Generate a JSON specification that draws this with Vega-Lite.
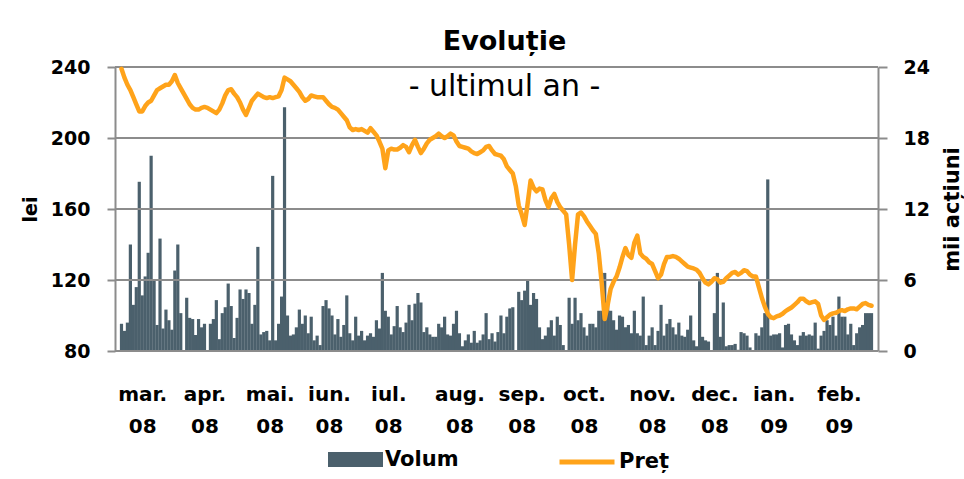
{
  "$schema": "https://vega.github.io/schema/vega-lite/v6.json",
  "width": 763,
  "height": 284,
  "autosize": {"type": "none"},
  "padding": {"left": 115, "top": 67, "right": 86, "bottom": 128},
  "background": "white",
  "config": {
    "font": "DejaVu Sans",
    "view": {"stroke": null},
    "axis": {
      "labelFont": "DejaVu Sans",
      "titleFont": "DejaVu Sans",
      "labelColor": "black",
      "titleColor": "black",
      "labelFontWeight": "bold",
      "titleFontWeight": "bold",
      "domainColor": "#8c8c8c",
      "tickColor": "#8c8c8c",
      "domainWidth": 2,
      "tickWidth": 2,
      "grid": false
    },
    "legend": {
      "orient": "none",
      "direction": "horizontal",
      "title": null,
      "padding": 0,
      "symbolSize": 3025,
      "labelFont": "DejaVu Sans",
      "labelFontSize": 21,
      "labelFontWeight": "bold",
      "labelColor": "black",
      "labelOffset": 2
    }
  },
  "title": {
    "text": "Evoluție",
    "subtitle": "- ultimul an -",
    "font": "DejaVu Sans",
    "subtitleFont": "DejaVu Sans",
    "fontSize": 27,
    "fontWeight": "bold",
    "color": "black",
    "subtitleFontSize": 30,
    "subtitleColor": "black",
    "subtitlePadding": 16,
    "offset": -45,
    "anchor": "middle",
    "dx": 8
  },
  "data": {"values": [
    {"i":0,"pret":239,"volum":2.3},{"i":1,"pret":234,"volum":1.7},{"i":2,"pret":230,"volum":2.4},{"i":3,"pret":227,"volum":9.0},{"i":4,"pret":223,"volum":3.9},
    {"i":5,"pret":219,"volum":5.4},{"i":6,"pret":215,"volum":14.3},{"i":7,"pret":215,"volum":4.7},{"i":8,"pret":218,"volum":6.3},{"i":9,"pret":220,"volum":8.3},
    {"i":10,"pret":221,"volum":16.5},{"i":11,"pret":224,"volum":6.0},{"i":12,"pret":227,"volum":2.2},{"i":13,"pret":228,"volum":9.5},{"i":14,"pret":229,"volum":1.9},
    {"i":15,"pret":230,"volum":3.5},{"i":16,"pret":230,"volum":2.6},{"i":17,"pret":232,"volum":1.8},{"i":18,"pret":235.5,"volum":6.8},{"i":19,"pret":231,"volum":9.0},
    {"i":20,"pret":228,"volum":3.2},{"i":21,"pret":225,"volum":0},{"i":22,"pret":222,"volum":4.5},{"i":23,"pret":219,"volum":2.8},{"i":24,"pret":217,"volum":2.7},
    {"i":25,"pret":216,"volum":1.35},{"i":26,"pret":216,"volum":2.7},{"i":27,"pret":217,"volum":2.0},{"i":28,"pret":217.5,"volum":2.3},{"i":29,"pret":217,"volum":0},
    {"i":30,"pret":216,"volum":2.3},{"i":31,"pret":215,"volum":2.7},{"i":32,"pret":214,"volum":4.3},{"i":33,"pret":216,"volum":1.0},{"i":34,"pret":219.5,"volum":3.2},
    {"i":35,"pret":224,"volum":3.7},{"i":36,"pret":227,"volum":5.7},{"i":37,"pret":227.5,"volum":3.8},{"i":38,"pret":225,"volum":1.1},{"i":39,"pret":223,"volum":2.8},
    {"i":40,"pret":220,"volum":5.2},{"i":41,"pret":216,"volum":4.4},{"i":42,"pret":213,"volum":5.2},{"i":43,"pret":217,"volum":4.9},{"i":44,"pret":221,"volum":2.3},
    {"i":45,"pret":223,"volum":3.9},{"i":46,"pret":225,"volum":8.8},{"i":47,"pret":224,"volum":1.4},{"i":48,"pret":223,"volum":1.6},{"i":49,"pret":222.5,"volum":1.7},
    {"i":50,"pret":223,"volum":0.9},{"i":51,"pret":222.5,"volum":14.8},{"i":52,"pret":223,"volum":0.9},{"i":53,"pret":223.5,"volum":2.3},{"i":54,"pret":227,"volum":4.6},
    {"i":55,"pret":234,"volum":20.6},{"i":56,"pret":233,"volum":3.0},{"i":57,"pret":232,"volum":1.3},{"i":58,"pret":230,"volum":1.4},{"i":59,"pret":228,"volum":2.0},
    {"i":60,"pret":226,"volum":3.5},{"i":61,"pret":223,"volum":2.3},{"i":62,"pret":221,"volum":3.0},{"i":63,"pret":222,"volum":1.5},{"i":64,"pret":224,"volum":2.9},
    {"i":65,"pret":223.5,"volum":0.9},{"i":66,"pret":223,"volum":1.3},{"i":67,"pret":223,"volum":0.5},{"i":68,"pret":223,"volum":3.8},{"i":69,"pret":221,"volum":4.3},
    {"i":70,"pret":219,"volum":3.6},{"i":71,"pret":217.5,"volum":3.0},{"i":72,"pret":217,"volum":1.4},{"i":73,"pret":216,"volum":2.7},{"i":74,"pret":214,"volum":1.2},
    {"i":75,"pret":212,"volum":2.2},{"i":76,"pret":210,"volum":4.7},{"i":77,"pret":206,"volum":1.5},{"i":78,"pret":204.5,"volum":0.9},{"i":79,"pret":205,"volum":2.9},
    {"i":80,"pret":204.5,"volum":1.3},{"i":81,"pret":205,"volum":1.7},{"i":82,"pret":204,"volum":0.9},{"i":83,"pret":203,"volum":1.3},{"i":84,"pret":205.5,"volum":1.5},
    {"i":85,"pret":203.5,"volum":1.2},{"i":86,"pret":201.5,"volum":2.6},{"i":87,"pret":198,"volum":1.9},{"i":88,"pret":194,"volum":6.6},{"i":89,"pret":183,"volum":3.4},
    {"i":90,"pret":193,"volum":2.9},{"i":91,"pret":194,"volum":1.4},{"i":92,"pret":193.5,"volum":2.1},{"i":93,"pret":193.5,"volum":3.8},{"i":94,"pret":194.5,"volum":2.0},
    {"i":95,"pret":196,"volum":1.6},{"i":96,"pret":195,"volum":2.4},{"i":97,"pret":192,"volum":3.9},{"i":98,"pret":196,"volum":2.6},{"i":99,"pret":199,"volum":4.0},
    {"i":100,"pret":195,"volum":4.9},{"i":101,"pret":191.5,"volum":4.1},{"i":102,"pret":194,"volum":1.6},{"i":103,"pret":197,"volum":2.0},{"i":104,"pret":199,"volum":1.4},
    {"i":105,"pret":200,"volum":1.2},{"i":106,"pret":201,"volum":1.2},{"i":107,"pret":202.5,"volum":2.3},{"i":108,"pret":201,"volum":2.0},{"i":109,"pret":200,"volum":2.9},
    {"i":110,"pret":201,"volum":1.4},{"i":111,"pret":202.5,"volum":1.3},{"i":112,"pret":201.5,"volum":2.3},{"i":113,"pret":198,"volum":3.4},{"i":114,"pret":195.5,"volum":1.5},
    {"i":115,"pret":195,"volum":0.4},{"i":116,"pret":194.5,"volum":0.9},{"i":117,"pret":194,"volum":1.4},{"i":118,"pret":192.5,"volum":0.7},{"i":119,"pret":191.5,"volum":1.7},
    {"i":120,"pret":191,"volum":0.7},{"i":121,"pret":192,"volum":0.9},{"i":122,"pret":193,"volum":1.4},{"i":123,"pret":195,"volum":3.2},{"i":124,"pret":195.5,"volum":1.0},
    {"i":125,"pret":193,"volum":1.5},{"i":126,"pret":191,"volum":0.8},{"i":127,"pret":190.5,"volum":1.6},{"i":128,"pret":190,"volum":3.0},{"i":129,"pret":188,"volum":1.5},
    {"i":130,"pret":184,"volum":2.9},{"i":131,"pret":182,"volum":3.6},{"i":132,"pret":180,"volum":3.7},{"i":133,"pret":173,"volum":0},{"i":134,"pret":162,"volum":5.0},
    {"i":135,"pret":157,"volum":4.3},{"i":136,"pret":151,"volum":5.1},{"i":137,"pret":163,"volum":6.0},{"i":138,"pret":176,"volum":3.9},{"i":139,"pret":172,"volum":4.9},
    {"i":140,"pret":170,"volum":4.4},{"i":141,"pret":171.5,"volum":2.0},{"i":142,"pret":171,"volum":1.0},{"i":143,"pret":165,"volum":1.3},{"i":144,"pret":161,"volum":2.0},
    {"i":145,"pret":166,"volum":2.6},{"i":146,"pret":168.5,"volum":1.3},{"i":147,"pret":164,"volum":2.9},{"i":148,"pret":161,"volum":2.2},{"i":149,"pret":159,"volum":0.5},
    {"i":150,"pret":157,"volum":0},{"i":151,"pret":140,"volum":4.5},{"i":152,"pret":120,"volum":2.3},{"i":153,"pret":140,"volum":4.5},{"i":154,"pret":157,"volum":2.6},
    {"i":155,"pret":158,"volum":3.2},{"i":156,"pret":156,"volum":2.0},{"i":157,"pret":153,"volum":1.3},{"i":158,"pret":150.5,"volum":2.3},{"i":159,"pret":148,"volum":2.3},
    {"i":160,"pret":146,"volum":2.0},{"i":161,"pret":135,"volum":3.4},{"i":162,"pret":118,"volum":3.4},{"i":163,"pret":98,"volum":6.6},{"i":164,"pret":106,"volum":3.9},
    {"i":165,"pret":115,"volum":3.4},{"i":166,"pret":119,"volum":2.6},{"i":167,"pret":122,"volum":1.8},{"i":168,"pret":127,"volum":3.0},{"i":169,"pret":133,"volum":2.9},
    {"i":170,"pret":138,"volum":2.0},{"i":171,"pret":134,"volum":2.2},{"i":172,"pret":132.5,"volum":1.5},{"i":173,"pret":141,"volum":3.4},{"i":174,"pret":145,"volum":1.5},
    {"i":175,"pret":135,"volum":1.3},{"i":176,"pret":133,"volum":4.6},{"i":177,"pret":132,"volum":0.5},{"i":178,"pret":130,"volum":1.3},{"i":179,"pret":129,"volum":2.0},
    {"i":180,"pret":125,"volum":0.5},{"i":181,"pret":121,"volum":1.7},{"i":182,"pret":123,"volum":3.9},{"i":183,"pret":129,"volum":1.3},{"i":184,"pret":133,"volum":2.3},
    {"i":185,"pret":133,"volum":2.7},{"i":186,"pret":133.5,"volum":2.0},{"i":187,"pret":133,"volum":1.4},{"i":188,"pret":132,"volum":2.4},{"i":189,"pret":130.5,"volum":1.3},
    {"i":190,"pret":129,"volum":1.2},{"i":191,"pret":127.5,"volum":1.8},{"i":192,"pret":127,"volum":3.0},{"i":193,"pret":126.5,"volum":0.9},{"i":194,"pret":125.8,"volum":0.4},
    {"i":195,"pret":124,"volum":5.9},{"i":196,"pret":121,"volum":1.2},{"i":197,"pret":118.5,"volum":0.9},{"i":198,"pret":117.5,"volum":0.8},{"i":199,"pret":119,"volum":0},
    {"i":200,"pret":121,"volum":3.2},{"i":201,"pret":120.5,"volum":6.6},{"i":202,"pret":118.5,"volum":1.2},{"i":203,"pret":119,"volum":4.1},{"i":204,"pret":121,"volum":0.4},
    {"i":205,"pret":122.5,"volum":0.5},{"i":206,"pret":124,"volum":0.5},{"i":207,"pret":124.5,"volum":0.6},{"i":208,"pret":123,"volum":0.1},{"i":209,"pret":124,"volum":1.6},
    {"i":210,"pret":125.5,"volum":1.5},{"i":211,"pret":125,"volum":1.3},{"i":212,"pret":123,"volum":0.3},{"i":213,"pret":122,"volum":0},{"i":214,"pret":122,"volum":1.5},
    {"i":215,"pret":116,"volum":1.3},{"i":216,"pret":110,"volum":2.0},{"i":217,"pret":105,"volum":3.2},{"i":218,"pret":101,"volum":14.5},{"i":219,"pret":99,"volum":1.3},
    {"i":220,"pret":98.5,"volum":1.4},{"i":221,"pret":99.5,"volum":1.4},{"i":222,"pret":100,"volum":1.5},{"i":223,"pret":101,"volum":0.3},{"i":224,"pret":102.5,"volum":2.2},
    {"i":225,"pret":103.5,"volum":2.3},{"i":226,"pret":104.5,"volum":1.4},{"i":227,"pret":106,"volum":0.9},{"i":228,"pret":107.5,"volum":0.5},{"i":229,"pret":109.5,"volum":1.3},
    {"i":230,"pret":109.5,"volum":1.6},{"i":231,"pret":108,"volum":1.3},{"i":232,"pret":107,"volum":1.4},{"i":233,"pret":107.5,"volum":1.3},{"i":234,"pret":108,"volum":2.4},
    {"i":235,"pret":106.5,"volum":0.2},{"i":236,"pret":100,"volum":1.3},{"i":237,"pret":97.5,"volum":1.7},{"i":238,"pret":99,"volum":2.6},{"i":239,"pret":100.5,"volum":2.2},
    {"i":240,"pret":101.2,"volum":2.9},{"i":241,"pret":101.5,"volum":1.3},{"i":242,"pret":102.5,"volum":4.6},{"i":243,"pret":103,"volum":2.9},{"i":244,"pret":102.5,"volum":2.9},
    {"i":245,"pret":103.5,"volum":1.4},{"i":246,"pret":104,"volum":2.3},{"i":247,"pret":104,"volum":0.5},{"i":248,"pret":103.5,"volum":1.5},{"i":249,"pret":105,"volum":2.0},
    {"i":250,"pret":106.5,"volum":2.2},{"i":251,"pret":107,"volum":3.2},{"i":252,"pret":106,"volum":3.2},{"i":253,"pret":105.5,"volum":3.2}
  ]},
  "layer": [
    {
      "mark": {"type": "bar", "size": 3.2, "orient": "vertical"},
      "encoding": {
        "x": {
          "field": "i", "type": "quantitative",
          "scale": {"domain": [-0.5, 253.5], "nice": false, "zero": false},
          "axis": {
            "title": null,
            "values": [7, 28, 50, 70, 90, 114, 135, 156, 179, 200, 220, 242],
            "labelExpr": "[['mar.','apr.','mai.','iun.','iul.','aug.','sep.','oct.','nov.','dec.','ian.','feb.'][indexof([7,28,50,70,90,114,135,156,179,200,220,242], datum.value)], datum.value >= 220 ? '09' : '08']",
            "ticks": false,
            "tickSize": 0,
            "domain": false,
            "labelFontSize": 20,
            "labelPadding": 33,
            "labelLineHeight": 32,
            "labelOverlap": false,
            "labelFlush": false,
            "labelBound": false
          }
        },
        "y": {
          "field": "volum", "type": "quantitative",
          "scale": {"domain": [0, 24], "nice": false},
          "axis": {
            "orient": "right",
            "values": [0, 6, 12, 18, 24],
            "labelFontSize": 19,
            "labelPadding": 16,
            "tickSize": 9,
            "title": "mii acțiuni",
            "titleFontSize": 21,
            "titleAngle": 270,
            "titleBaseline": "top",
            "titlePadding": 12
          }
        },
        "fill": {
          "datum": "Volum",
          "scale": {"domain": ["Volum"], "range": ["#4b606c"]},
          "legend": {
            "legendX": 213,
            "legendY": 365,
            "symbolType": "M-1,-0.27H1V0.27H-1Z",
            "symbolFillColor": "#4b606c",
            "symbolStrokeWidth": 0
          }
        }
      }
    },
    {
      "data": {"values": [{"g": 80}, {"g": 120}, {"g": 160}, {"g": 200}, {"g": 240}]},
      "mark": {"type": "rule", "color": "#8c8c8c", "strokeWidth": 2},
      "encoding": {
        "y": {"field": "g", "type": "quantitative", "scale": {"domain": [80, 240], "nice": false, "zero": false}, "axis": null}
      }
    },
    {
      "mark": {"type": "line", "strokeWidth": 4.5, "strokeCap": "round", "strokeJoin": "round"},
      "encoding": {
        "x": {
          "field": "i", "type": "quantitative",
          "scale": {"domain": [-0.5, 253.5], "nice": false, "zero": false}
        },
        "y": {
          "field": "pret", "type": "quantitative",
          "scale": {"domain": [80, 240], "nice": false, "zero": false},
          "axis": {
            "orient": "left",
            "values": [80, 120, 160, 200, 240],
            "labelFontSize": 19,
            "labelPadding": 17,
            "tickSize": 8,
            "title": "lei",
            "titleFontSize": 19,
            "titlePadding": 10
          }
        },
        "stroke": {
          "datum": "Preț",
          "scale": {"domain": ["Preț"], "range": ["#ffa31a"]},
          "legend": {
            "legendX": 442,
            "legendY": 365,
            "symbolType": "M-1,0H1",
            "symbolStrokeColor": "#ffa31a",
            "symbolStrokeWidth": 5
          }
        }
      }
    }
  ],
  "resolve": {"scale": {"y": "independent"}, "axis": {"y": "independent"}}
}
